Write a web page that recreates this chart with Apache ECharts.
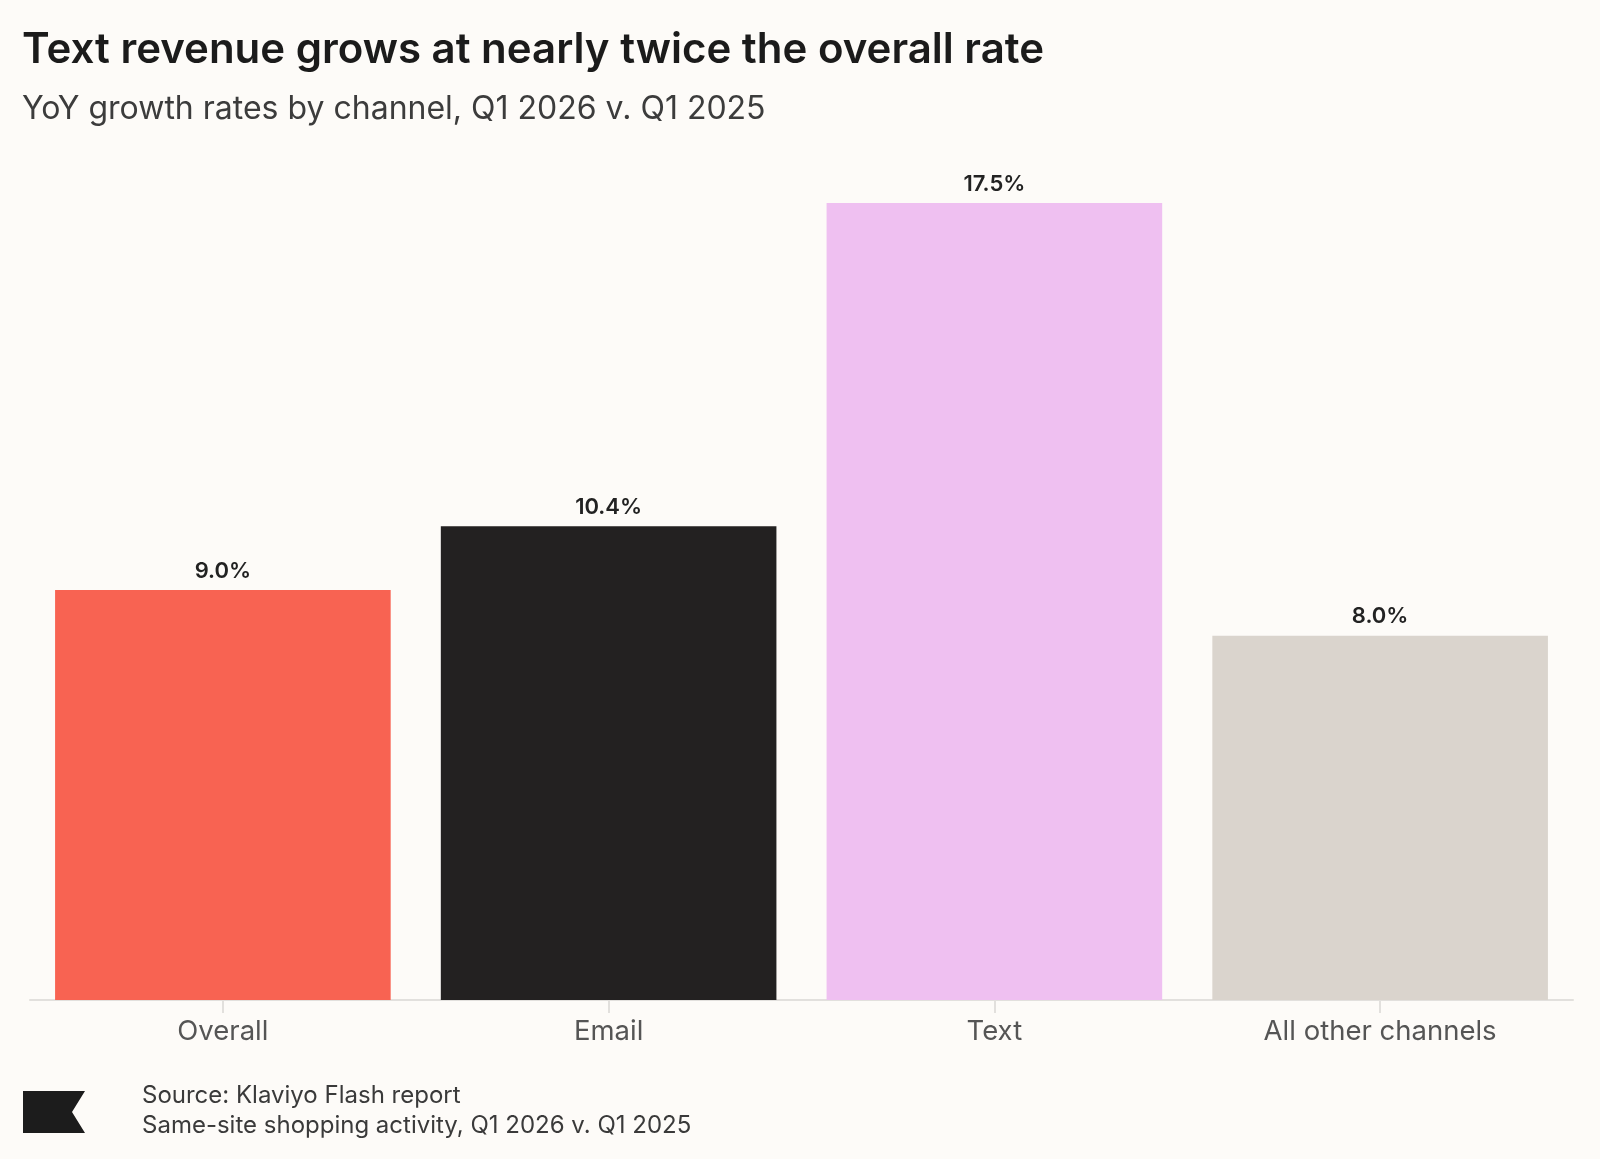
<!DOCTYPE html>
<html>
<head>
<meta charset="utf-8">
<title>Text revenue grows at nearly twice the overall rate</title>
<script src="https://cdn.jsdelivr.net/npm/echarts@6/dist/echarts.min.js"></script>
<style>
	html, body { margin: 0; padding: 0; background: #fdfbf8; }
	#chart { width: 1600px; height: 1159px; }
</style>
</head>
<body>
<div id="chart"></div>
<script>
// 渠道同比增长数据
var categories = ["Overall", "Email", "Text", "All other channels"];
var growthValues = [9.0, 10.4, 17.5, 8.0];
var barColors = ["#f86352", "#232121", "#efc0f1", "#dad4cd"];

var FONT = "Inter, 'Noto Sans', sans-serif";

var myChart = echarts.init(document.getElementById("chart"));

var seriesData = [];
for (var i = 0; i < growthValues.length; i++) {
	seriesData.push({
		value: growthValues[i],
		itemStyle: { color: barColors[i] }
	});
}

var option = {
	backgroundColor: "#fdfbf8",
	animation: false,
	title: {
		text: "Text revenue grows at nearly twice the overall rate",
		subtext: "YoY growth rates by channel, Q1 2026 v. Q1 2025",
		left: 17,
		top: 24,
		itemGap: 22,
		textStyle: {
			fontFamily: FONT,
			fontSize: 42,
			fontWeight: 600,
			color: "#1b1b1b"
		},
		subtextStyle: {
			fontFamily: FONT,
			fontSize: 32,
			color: "#3c3c3c"
		}
	},
	grid: {
		left: 30,
		right: 27,
		top: 203,
		bottom: 159,
		containLabel: false
	},
	xAxis: {
		type: "category",
		data: categories,
		axisLine: { lineStyle: { color: "#e2e0dd", width: 2 } },
		axisTick: { show: true, alignWithLabel: true, length: 13, lineStyle: { color: "#e2e0dd", width: 2 } },
		axisLabel: {
			fontFamily: FONT,
			fontSize: 27.5,
			color: "#555555",
			margin: 18
		}
	},
	yAxis: {
		type: "value",
		min: 0,
		max: 17.5,
		show: false,
		splitLine: { show: false }
	},
	series: [{
		type: "bar",
		data: seriesData,
		barCategoryGap: "13%",
		label: {
			show: true,
			position: "top",
			distance: 8,
			fontFamily: FONT,
			fontSize: 22,
			fontWeight: 600,
			color: "#222222",
			formatter: function(p) {
				return p.value.toFixed(1) + "%";
			}
		}
	}],
	graphic: [
		{
			type: "polygon",
			shape: {
				points: [[23, 1091], [85, 1091], [72, 1112], [85, 1133], [23, 1133]]
			},
			style: { fill: "#1c1c1c" }
		},
		{
			type: "text",
			left: 142,
			top: 1081,
			style: {
				text: "Source: Klaviyo Flash report\nSame-site shopping activity, Q1 2026 v. Q1 2025",
				fontFamily: FONT,
				fontSize: 24,
				lineHeight: 30,
				fill: "#3a3a3a"
			}
		}
	]
};

myChart.setOption(option);
</script>
</body>
</html>
